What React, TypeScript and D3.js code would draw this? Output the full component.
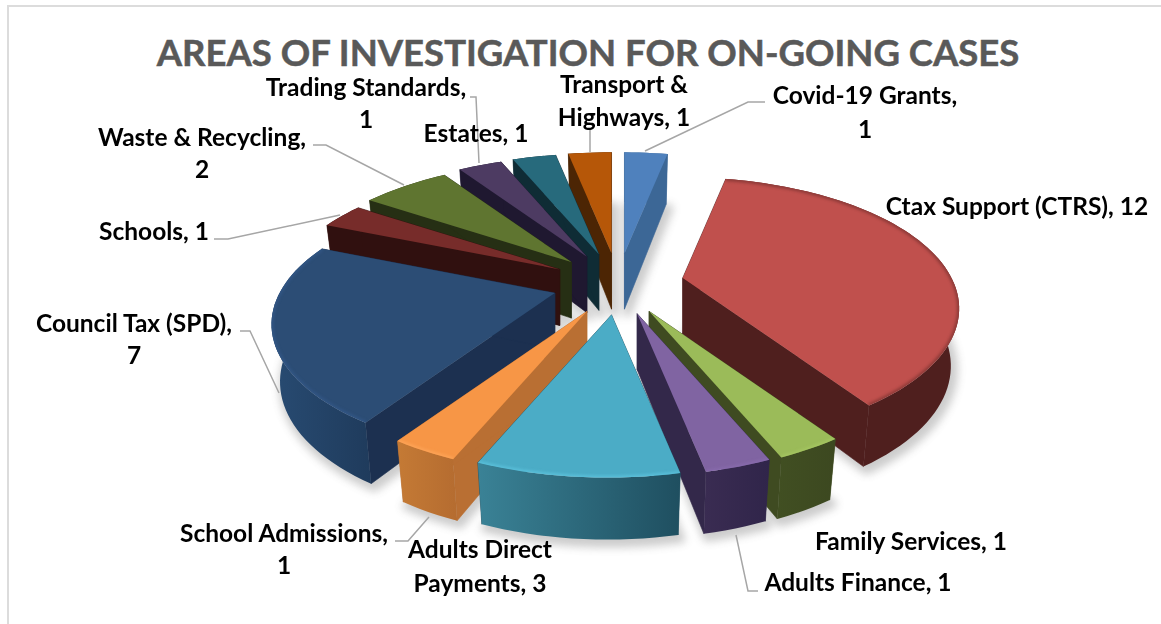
import React, { useMemo } from "react";
import * as d3 from "d3";

// Cases per area, clockwise from twelve o'clock
const areas = [
  "Covid-19 Grants",
  "Ctax Support (CTRS)",
  "Family Services",
  "Adults Finance",
  "Adults Direct Payments",
  "School Admissions",
  "Council Tax (SPD)",
  "Schools",
  "Waste & Recycling",
  "Trading Standards",
  "Estates",
  "Transport & Highways",
];
const cases = [1, 12, 1, 1, 3, 1, 7, 1, 2, 1, 1, 1];

const topColors = ["#4f81bd", "#c0504d", "#9bbb59", "#8064a2", "#4bacc6", "#f79646", "#2c4d75", "#772c2a", "#5f7530", "#4d3b62", "#276a7c", "#b65708"];
const sideColors = ["#3c6796", "#4f1f1e", "#3f4b21", "#33284a", "#1f4f60", "#b96f33", "#1c3050", "#30100f", "#262f14", "#1f1830", "#0f2c35", "#4c2504"];
const wallStart = ["#3c6796", "#4f1f1e", "#414f22", "#3a2c52", "#3a8296", "#c47a35", "#284b72", "#30100f", "#262f14", "#1f1830", "#0f2c35", "#4c2504"];
const wallEnd = ["#3c6796", "#4f1f1e", "#3c4820", "#30254a", "#1f4f60", "#b56c30", "#1f3b5c", "#30100f", "#262f14", "#1f1830", "#0f2c35", "#4c2504"];
// Soft bevel colour along each slice's rim, empty where no bevel shows
const rimColors = ["", "#7a3230", "#a8c964", "#8a6db0", "#5fc6e0", "#ffa85c", "#34598a", "", "", "", "", ""];

// Painter's order: far slices first, nearest last
const drawOrder = [11, 10, 9, 8, 7, 6, 0, 1, 2, 3, 5, 4];

// Label lines with their anchor point
const labelLines: [string, number, number][] = [
  ["Trading Standards,", 366, 96],
  ["1", 366, 128],
  ["Transport &", 624, 93],
  ["Highways, 1", 624, 126],
  ["Covid-19 Grants,", 865, 104],
  ["1", 865, 138],
  ["Estates, 1", 476, 142],
  ["Waste & Recycling,", 202, 146],
  ["2", 202, 178],
  ["Ctax Support (CTRS), 12", 1017, 215],
  ["Schools, 1", 154, 240],
  ["Council Tax (SPD),", 134, 332],
  ["7", 134, 364],
  ["School Admissions,", 284, 542],
  ["1", 284, 574],
  ["Adults Direct", 480, 558],
  ["Payments, 3", 480, 592],
  ["Family Services, 1", 911, 550],
  ["Adults Finance, 1", 858, 591],
];

const leaderLines: [number, number][][] = [
  [[765, 102], [748, 102], [645, 151]],
  [[470, 97], [476, 97], [479, 163]],
  [[590, 130], [590, 152]],
  [[313, 145], [326, 145], [404, 185]],
  [[214, 239], [228, 239], [340, 215]],
  [[240, 331], [250, 331], [279, 393]],
  [[395, 541], [408, 541], [429, 517]],
  [[758, 591], [748, 591], [736, 535]],
];

const centre = { x: 618, y: 284 };
const explodeX = 66;
const explodeY = 31;
const radiusX = 272;
const radiusY = 124.5;
const tiltK = 0.235;
const tiltM = 0.012;

type Pt = [number, number];

// Plane of the pie projected with a simple perspective divide
function project(theta: number, r: number): Pt {
  const s = Math.sin(theta) * r;
  const c = Math.cos(theta) * r;
  const w = 1 + tiltK * c + tiltM * s;
  return [(radiusX * s) / w, (-radiusY * c) / w];
}

// Wall height grows a little toward the viewer
function wallHeight(theta: number, r: number): number {
  return 56 - 6 * Math.cos(theta) * r;
}

const pathOf = d3.line<Pt>().x((p) => p[0]).y((p) => p[1]);

function buildSlice(start: number, end: number) {
  const mid = (start + end) / 2;
  const ax = centre.x + explodeX * Math.sin(mid);
  const ay = centre.y - explodeY * Math.cos(mid);
  const n = Math.max(4, Math.ceil(((end - start) * 180) / Math.PI / 2));
  const angles = d3.range(n + 1).map((i) => start + ((end - start) * i) / n);
  const topAt = (t: number): Pt => {
    const p = project(t, 1);
    return [ax + p[0], ay + p[1]];
  };
  const bottomAt = (t: number): Pt => {
    const p = project(t, 1);
    return [ax + p[0] * 0.97, ay + p[1] + wallHeight(t, 1)];
  };
  const apexTop: Pt = [ax, ay];
  const apexBottom: Pt = [ax, ay + 56];
  const rimTop = angles.map(topAt);
  const rimBottom = angles.map(bottomAt);
  return {
    top: pathOf([apexTop, ...rimTop])! + "Z",
    rim: pathOf(rimTop)!,
    wall: pathOf([...rimTop, ...[...rimBottom].reverse()])! + "Z",
    cutStart: pathOf([apexTop, rimTop[0], rimBottom[0], apexBottom])! + "Z",
    cutEnd: pathOf([apexTop, rimTop[n], rimBottom[n], apexBottom])! + "Z",
    floor: pathOf([apexBottom, ...rimBottom])! + "Z",
  };
}

export default function App() {
  const slices = useMemo(() => {
    const arcs = d3
      .pie<number>()
      .sort(null)
      .startAngle(0)
      .endAngle(2 * Math.PI)(cases);
    return arcs.map((a) => buildSlice(a.startAngle, a.endAngle));
  }, []);

  const leader = d3.line<[number, number]>();

  return (
    <svg
      width={1161}
      height={624}
      viewBox="0 0 1161 624"
      style={{ position: "absolute", left: 0, top: 0, display: "block", background: "#fff" }}
      fontFamily="Lato, Carlito, sans-serif"
    >
      <defs>
        <filter id="shadowBlur" x="-10%" y="-10%" width="120%" height="120%">
          <feGaussianBlur stdDeviation="4.5" />
        </filter>
        {slices.map((s, i) => (
          <clipPath id={`topClip${i}`} key={i}>
            <path d={s.top} />
          </clipPath>
        ))}
        {areas.map((_, i) => (
          <linearGradient id={`wallGrad${i}`} key={i} x1="0" x2="1" y1="0" y2="0">
            <stop offset="0" stopColor={wallStart[i]} />
            <stop offset="1" stopColor={wallEnd[i]} />
          </linearGradient>
        ))}
      </defs>

      {/* Chart frame: only the top and left edges fall inside the page */}
      <path d="M8,624V6H1161" fill="none" stroke="#dcdcdc" strokeWidth={2} />

      <text x={588} y={66} textAnchor="middle" fontSize={36.5} fontWeight={700} fill="#595959" stroke="#595959" strokeWidth={0.5}>
        AREAS OF INVESTIGATION FOR ON-GOING CASES
      </text>

      <g filter="url(#shadowBlur)" opacity={0.3}>
        {slices.map((s, i) => (
          <path key={i} d={s.floor} fill="#555" stroke="#555" strokeWidth={8} strokeLinejoin="round" transform="translate(3,4)" />
        ))}
      </g>

      <g fill="none" stroke="#a6a6a6" strokeWidth={1.5}>
        {leaderLines.map((pts, i) => (
          <path key={i} d={leader(pts)!} />
        ))}
      </g>

      {drawOrder.map((i) => {
        const s = slices[i];
        return (
          <g key={i}>
            <path d={s.cutStart} fill={sideColors[i]} stroke={sideColors[i]} strokeWidth={0.6} />
            <path d={s.cutEnd} fill={sideColors[i]} stroke={sideColors[i]} strokeWidth={0.6} />
            <path d={s.wall} fill={`url(#wallGrad${i})`} />
            <path d={s.top} fill={topColors[i]} />
            {rimColors[i] && (
              <g clipPath={`url(#topClip${i})`}>
                <path d={s.rim} fill="none" stroke={rimColors[i]} strokeWidth={4} opacity={0.75} style={{ filter: "blur(1.8px)" }} />
              </g>
            )}
          </g>
        );
      })}

      <g fontSize={24.5} fontWeight={700} fill="#000" textAnchor="middle">
        {labelLines.map(([t, x, y], i) => (
          <text key={i} x={x} y={y}>
            {t}
          </text>
        ))}
      </g>
    </svg>
  );
}
